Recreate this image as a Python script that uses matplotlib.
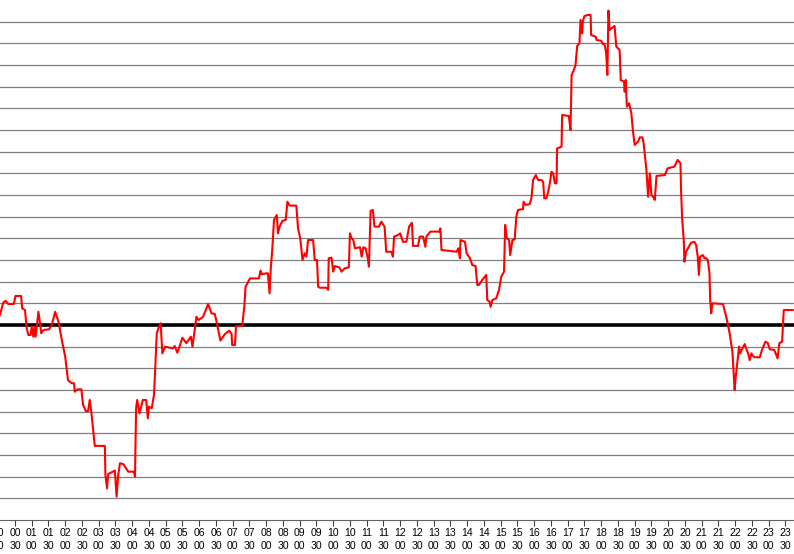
import matplotlib
matplotlib.use("Agg")
import matplotlib.pyplot as plt

# time of day in minutes, and the value at that time
minutes = [3, 9, 13, 18, 28, 31, 41, 43, 48, 51, 54, 58, 60, 63, 65, 67, 72, 75, 77, 81,
           91, 96, 102, 108, 115, 120, 125, 132, 136, 137, 142, 149, 152, 157, 161, 164, 167, 173, 191, 192,
           195, 197, 209, 212, 215, 218, 224, 233, 243, 245, 247, 249, 253, 259, 265, 268, 270, 275, 279, 281,
           284, 287, 291, 294, 299, 313, 316, 321, 330, 337, 345, 348, 352, 355, 359, 367, 376, 382, 388, 393,
           398, 406, 414, 418, 419, 424, 426, 437, 441, 443, 451, 467, 470, 472, 483, 486, 488, 491, 494, 499,
           501, 504, 509, 515, 518, 522, 534, 537, 541, 545, 549, 552, 555, 564, 567, 571, 573, 576, 588, 591,
           592, 597, 600, 603, 611, 615, 621, 628, 630, 633, 636, 639, 648, 651, 654, 658, 662, 664, 667, 671,
           674, 682, 686, 692, 695, 704, 707, 709, 716, 720, 725, 731, 736, 741, 743, 752, 755, 761, 765, 767,
           774, 790, 792, 794, 809, 821, 824, 827, 828, 836, 839, 845, 849, 855, 858, 861, 867, 874, 876, 880,
           882, 885, 892, 897, 901, 906, 908, 911, 915, 917, 921, 925, 928, 931, 940, 941, 945, 952, 955, 958,
           963, 967, 973, 976, 978, 982, 985, 988, 991, 994, 997, 1000, 1001, 1009, 1010, 1022, 1025, 1027, 1031, 1034,
           1037, 1041, 1043, 1046, 1047, 1050, 1056, 1061, 1062, 1070, 1072, 1080, 1083, 1086, 1089, 1091, 1093, 1095, 1104, 1107,
           1113, 1115, 1121, 1122, 1124, 1126, 1130, 1134, 1137, 1140, 1146, 1149, 1154, 1156, 1161, 1164, 1167, 1170, 1173, 1176,
           1179, 1194, 1199, 1211, 1217, 1222, 1223, 1225, 1228, 1229, 1232, 1241, 1247, 1250, 1253, 1255, 1257, 1262, 1265, 1268,
           1271, 1274, 1275, 1277, 1279, 1298, 1304, 1310, 1315, 1319, 1321, 1325, 1327, 1329, 1333, 1337, 1343, 1346, 1349, 1352,
           1355, 1364, 1368, 1374, 1378, 1382, 1390, 1396, 1399, 1404, 1407, 1423]

values = [0.46, 1.03, 1.12, 0.97, 0.97, 1.34, 1.34, 0.77, 0.69, -0.15, -0.46, -0.46, -0.08, -0.54, -0.08, -0.54, 0.61, 0.08, -0.38, -0.23,
          -0.20, 0.0, 0.61, 0.15, -0.84, -1.46, -2.54, -2.69, -2.69, -3.08, -2.97, -2.97, -3.69, -3.97, -3.97, -3.46, -4.08, -5.58, -5.58, -6.92,
          -7.54, -6.88, -6.72, -7.92, -6.92, -6.38, -6.42, -6.77, -6.77, -7.00, -3.84, -3.46, -4.08, -3.46, -3.46, -4.31, -3.77, -3.84, -3.23, -2.15,
          -0.38, -0.15, 0.08, -1.31, -1.00, -1.08, -0.97, -1.28, -0.59, -0.84, -0.54, -1.00, -0.20, 0.38, 0.23, 0.38, 0.97, 0.54, 0.51, -0.08,
          -0.72, -0.42, -0.26, -0.42, -0.92, -0.92, -0.05, -0.05, 0.92, 1.77, 2.15, 2.15, 2.51, 2.35, 2.39, 1.46, 2.54, 3.54, 4.85, 5.08,
          4.23, 4.54, 4.81, 4.85, 5.69, 5.51, 5.51, 4.46, 4.00, 3.00, 3.31, 3.15, 3.92, 3.92, 3.00, 3.00, 1.77, 1.72, 1.72, 1.62,
          3.08, 3.11, 2.46, 2.72, 2.66, 2.46, 2.62, 2.66, 4.23, 4.00, 3.92, 3.54, 3.59, 3.15, 3.59, 3.54, 3.08, 2.69, 5.27, 5.31,
          4.54, 4.54, 4.77, 4.54, 3.38, 3.38, 3.15, 4.08, 4.15, 4.23, 3.84, 3.84, 4.54, 4.72, 3.65, 3.65, 4.08, 4.08, 3.61, 4.08,
          4.31, 4.31, 4.46, 3.46, 3.42, 3.38, 3.54, 3.08, 3.92, 3.84, 3.31, 3.08, 2.77, 2.72, 1.85, 1.85, 2.08, 2.31, 1.15, 1.08,
          0.84, 1.15, 1.23, 1.62, 2.23, 2.46, 4.62, 4.00, 3.92, 3.23, 3.92, 3.95, 5.00, 5.31, 5.35, 5.69, 5.54, 5.58, 5.85, 6.69,
          6.92, 6.69, 6.69, 6.61, 5.85, 5.85, 6.15, 6.54, 7.07, 7.00, 6.54, 6.54, 8.15, 8.23, 9.69, 9.65, 9.00, 11.54, 11.77, 12.00,
          12.88, 13.00, 14.08, 13.46, 14.00, 14.26, 14.31, 14.31, 13.38, 13.31, 13.15, 13.12, 12.97, 12.97, 12.54, 11.54, 14.51, 13.62, 13.80, 12.85,
          12.69, 11.31, 11.23, 10.77, 11.31, 10.08, 10.23, 9.77, 8.92, 8.31, 8.46, 8.66, 8.66, 8.38, 7.15, 5.92, 7.00, 6.00, 5.92, 5.77,
          6.88, 6.92, 7.23, 7.31, 7.62, 7.46, 6.23, 4.92, 3.84, 2.92, 3.38, 3.80, 3.84, 3.69, 3.15, 2.31, 3.15, 3.23, 3.08, 3.08,
          3.00, 2.38, 1.23, 0.54, 1.00, 0.97, 0.38, -0.38, -1.23, -3.00, -2.38, -1.46, -1.00, -1.31, -1.08, -0.88, -1.31, -1.62, -1.31, -1.43,
          -1.49, -1.49, -1.15, -0.77, -0.82, -1.12, -1.15, -1.54, -0.84, -0.77, 0.69, 0.69]

assert len(minutes) == len(values)

tick_minutes = list(range(0, 1440, 30))
tick_labels = ["%02d\n%02d" % (m // 60, m % 60) for m in tick_minutes]

fig = plt.figure(figsize=(7.94, 5.54), dpi=100)
ax = fig.add_axes([-1.8 / 794, 34 / 554, 804 / 794, 520 / 554])

ax.set_xlim(0, 1440)
ax.set_ylim(-9, 15)

for g in range(-8, 15):
    ax.axhline(g, color="#808080", lw=0.9, zorder=1)
ax.axhline(0, color="black", lw=2.6, zorder=2)

ax.plot(minutes, values, color="red", lw=1.5, zorder=3)

ax.set_xticks(tick_minutes)
ax.set_xticklabels(tick_labels, fontfamily="Liberation Sans", fontsize=7.6, linespacing=1.3)
ax.tick_params(axis="x", direction="out", length=4, width=0.8, pad=2, color="#404040")
ax.set_yticks([])

for s in ["left", "right", "top"]:
    ax.spines[s].set_visible(False)
ax.spines["bottom"].set_color("#606060")
ax.spines["bottom"].set_linewidth(0.8)

fig.savefig("out.png", dpi=100)
